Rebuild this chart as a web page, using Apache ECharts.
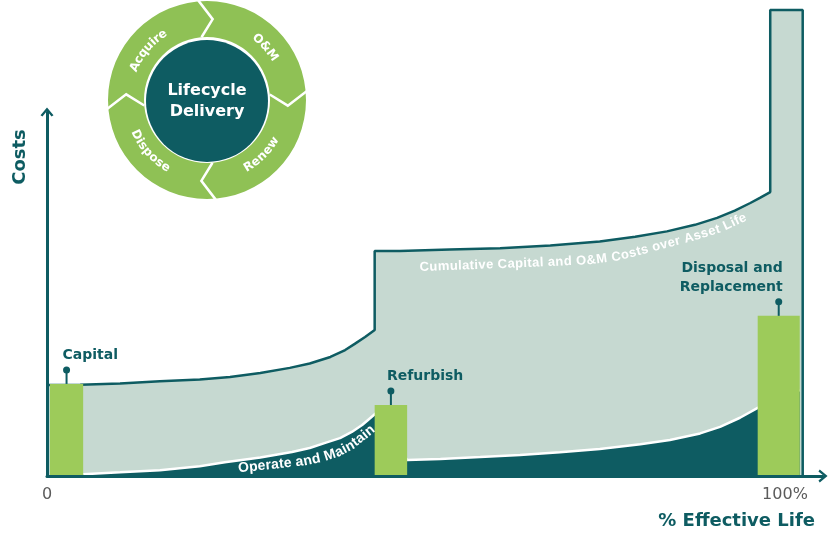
<!DOCTYPE html>
<html>
<head>
<meta charset="utf-8">
<script src="https://cdn.jsdelivr.net/npm/echarts@6/dist/echarts.min.js"></script>
<title>Lifecycle costs</title>
<style>html,body{margin:0;background:#fff}#main{width:830px;height:533px}</style>
</head>
<body>
<div id="main"></div>
<script>
var teal = '#0e5c62', pale = '#c6d9d1', green = '#9dcb5a', ringGreen = '#8fc155';

// cumulative capital + O&M cost outline (x: % effective life, y: cost)
var cumX = [0, 4.5, 9.9, 15.3, 20.7, 24.8, 28.9, 32.9, 35.6, 38.4, 40.4, 41.7, 43.1, 44.4,
            44.4, 47.8, 54.6, 61.4, 68.2, 74.9, 79.7, 84.0, 87.8, 90.8, 93.2, 95.3, 96.6, 98.0,
            98.0, 102.4, 102.4];
var cumY = [25.0, 25.1, 25.4, 26.0, 26.5, 27.2, 28.3, 29.7, 30.9, 32.7, 34.6, 36.3, 38.2, 40.1,
            61.8, 61.8, 62.2, 62.6, 63.3, 64.4, 65.7, 67.2, 69.0, 70.9, 72.9, 75.0, 76.4, 78.0,
            128.0, 128.0, 0];
// operate and maintain costs
var omX = [4.9, 9.9, 15.3, 20.7, 24.1, 28.9, 33.2, 35.6, 37.7, 39.7, 41.3, 42.7, 43.5, 44.6,
           48.8, 53.3, 58.7, 64.1, 69.5, 74.9, 80.4, 84.4, 88.5, 91.2, 93.9, 96.3, 99.3, 102.0];
var omY = [0.5, 1.0, 1.6, 2.7, 3.8, 5.1, 6.6, 7.7, 9.1, 10.4, 12.1, 14.0, 15.4, 17.3,
           4.4, 4.7, 5.2, 5.8, 6.5, 7.4, 8.7, 9.9, 11.7, 13.5, 16.0, 18.7, 21.4, 23.6];
// capital events
var barNames = ['Capital', 'Refurbish', 'Disposal and\nReplacement'];
var barStart = [0.4, 44.4, 96.3];
var barEnd = [4.9, 48.8, 102.0];
var barHeight = [25.3, 19.5, 44.0];
var barAlign = ['left', 'left', 'right'];
// captions that follow the curves
var captionText = ['Cumulative Capital and O&M Costs over Asset Life', 'Operate and Maintain'];
var captionPathX = [[50.5, 62.7, 73.6, 77.6, 81.7, 87.1, 91.2, 94.7],
                    [25.9, 29.5, 33.2, 35.2, 37.3, 39.3, 41.1, 42.7, 44.2]];
var captionPathY = [[57.3, 58.2, 59.2, 60.3, 62.5, 65.4, 67.9, 71.2],
                    [2.1, 2.8, 3.6, 4.1, 5.0, 6.3, 8.2, 10.7, 13.2]];
var captionFont = ['bold 13px "Liberation Sans"', 'bold 14px "Liberation Sans"'];
// lifecycle wheel
var cycleSteps = ['Acquire', 'O&M', 'Renew', 'Dispose'];
var cycleLabelAngle = [140, 42, 315, 222];
var cycleBoundary = [185, 95, 5, 275];
var xTicks = [0, 100];
var xTickLabels = ['0', '100%'];

var wheelCenter = [207, 100], wheelR = [63, 99];
var chevron = 'path://M0,12 L10,0 L20,12 L17,14 L10,5.5 L3,14 Z';
var measureCtx = document.createElement('canvas').getContext('2d');

// lay single glyphs along a pixel polyline
function textAlongPath(text, pts, font, fill, fit) {
  measureCtx.font = font;
  var chars = text.split('');
  var widths = chars.map(function (c) { return measureCtx.measureText(c).width; });
  var W = widths.reduce(function (a, b) { return a + b; }, 0);
  var segLen = [], L = 0;
  for (var k = 1; k < pts.length; k++) {
    var d = Math.hypot(pts[k][0] - pts[k - 1][0], pts[k][1] - pts[k - 1][1]);
    segLen.push(d); L += d;
  }
  var gap = fit ? (L - W) / (chars.length - 1) : 0;
  var s = fit ? 0 : (L - W) / 2;
  var out = [];
  chars.forEach(function (c, j) {
    var m = s + widths[j] / 2;
    var n = 0, acc = 0;
    while (n < segLen.length - 1 && acc + segLen[n] < m) { acc += segLen[n]; n++; }
    var t = segLen[n] ? (m - acc) / segLen[n] : 0;
    var a = pts[n], b = pts[n + 1];
    if (c !== ' ') {
      out.push({type: 'text', x: a[0] + (b[0] - a[0]) * t, y: a[1] + (b[1] - a[1]) * t,
        rotation: Math.atan2(-(b[1] - a[1]), b[0] - a[0]),
        style: {text: c, font: font, fill: fill, align: 'center', verticalAlign: 'middle'}});
    }
    s += widths[j] + gap;
  });
  return out;
}

function polar(r, deg) {
  var a = deg * Math.PI / 180;
  return [wheelCenter[0] + r * Math.cos(a), wheelCenter[1] - r * Math.sin(a)];
}

var myChart = echarts.init(document.getElementById('main'));

var option = {
  animation: false,
  grid: {left: 47, top: 112, width: 776, bottom: 57},
  xAxis: {
    type: 'value', min: 0, max: 105.15, z: 10,
    axisLine: {lineStyle: {color: teal, width: 3}, symbol: ['none', chevron], symbolSize: [13, 10]},
    axisTick: {show: false},
    splitLine: {show: false},
    axisLabel: {
      customValues: xTicks, margin: 11, color: '#5b5b5b', fontSize: 16, fontFamily: 'DejaVu Sans',
      formatter: function (v) { return xTickLabels[xTicks.indexOf(v)]; }
    }
  },
  yAxis: {
    type: 'value', min: 0, max: 100, z: 10,
    axisLine: {show: true, lineStyle: {color: teal, width: 3}, symbol: ['none', chevron], symbolSize: [13, 10]},
    axisTick: {show: false},
    axisLabel: {show: false},
    splitLine: {show: false}
  },
  graphic: [
    {type: 'text', x: 20, y: 157, rotation: Math.PI / 2,
      style: {text: 'Costs', fill: teal, font: 'bold 18px "DejaVu Sans"', align: 'center', verticalAlign: 'middle'}},
    {type: 'text', x: 815, y: 521,
      style: {text: '% Effective Life', fill: teal, font: 'bold 18px "DejaVu Sans"', align: 'right', verticalAlign: 'middle'}}
  ],
  series: [
    {
      type: 'line', z: 1, clip: false, showSymbol: false, silent: true,
      data: cumX.map(function (x, i) { return [x, cumY[i]]; }),
      lineStyle: {color: teal, width: 2.5},
      areaStyle: {color: pale, opacity: 1}
    },
    {
      type: 'line', z: 2, showSymbol: false, silent: true,
      data: omX.map(function (x, i) { return [x, omY[i]]; }),
      lineStyle: {color: '#fff', width: 2.5},
      areaStyle: {color: teal, opacity: 1}
    },
    {
      type: 'custom', z: 3, silent: true,
      data: barNames.map(function (n, i) { return [barStart[i], barEnd[i], barHeight[i]]; }),
      encode: {x: [0, 1], y: 2},
      renderItem: function (params, api) {
        var i = params.dataIndex;
        var p0 = api.coord([api.value(0), api.value(2)]);
        var p1 = api.coord([api.value(1), 0]);
        var cx = (p0[0] + p1[0]) / 2, top = p0[1];
        var al = barAlign[i];
        return {type: 'group', children: [
          {type: 'rect', shape: {x: p0[0], y: top, width: p1[0] - p0[0], height: p1[1] - top}, style: {fill: green}},
          {type: 'line', shape: {x1: cx, y1: top, x2: cx, y2: top - 14}, style: {stroke: teal, lineWidth: 2}},
          {type: 'circle', shape: {cx: cx, cy: top - 14, r: 3.5}, style: {fill: teal}},
          {type: 'text', x: cx + (al === 'left' ? -4 : 4), y: top - 19,
            style: {text: barNames[i], fill: teal, font: 'bold 14px "DejaVu Sans"', align: al, verticalAlign: 'bottom', lineHeight: 19}}
        ]};
      }
    },
    {
      type: 'custom', z: 4, silent: true,
      data: captionText.map(function (t, i) { return [captionPathX[i][0], captionPathY[i][0]]; }),
      encode: {x: 0, y: 1},
      renderItem: function (params, api) {
        var i = params.dataIndex;
        var pts = captionPathX[i].map(function (x, k) { return api.coord([x, captionPathY[i][k]]); });
        return {type: 'group', children: textAlongPath(captionText[i], pts, captionFont[i], '#fff', true)};
      }
    },
    {
      type: 'pie', z: 6, silent: true, center: wheelCenter, radius: wheelR, startAngle: 90,
      data: cycleSteps.map(function (n) { return {name: n, value: 1}; }),
      itemStyle: {color: ringGreen, borderWidth: 0},
      label: {show: false}, labelLine: {show: false}
    },
    {
      type: 'custom', z: 7, silent: true, coordinateSystem: 'none',
      data: cycleSteps.map(function (n, i) { return [i]; }),
      renderItem: function (params, api) {
        var i = params.dataIndex;
        var b = cycleBoundary[i];
        var font = 'bold 12px "DejaVu Sans"';
        measureCtx.font = font;
        var r = 79, half = measureCtx.measureText(cycleSteps[i]).width / 2 / r * 180 / Math.PI * 1.04;
        var a = cycleLabelAngle[i], lower = a > 180;
        var pts = [];
        for (var k = 0; k <= 16; k++) {
          var f = k / 16;
          pts.push(polar(r, lower ? a - half + 2 * half * f : a + half - 2 * half * f));
        }
        var sep = [polar(wheelR[0], b), polar((wheelR[0] + wheelR[1]) / 2, b - 9), polar(wheelR[1] + 1, b)];
        return {type: 'group', children: [
          {type: 'polyline', shape: {points: sep}, style: {stroke: '#fff', lineWidth: 2.5, fill: null}}
        ].concat(textAlongPath(cycleSteps[i], pts, font, '#fff', false))};
      }
    },
    {
      type: 'pie', z: 6, silent: true, center: [207, 101], radius: [0, 61],
      data: [{name: 'Lifecycle\nDelivery', value: 1}],
      itemStyle: {color: teal},
      label: {position: 'center', formatter: '{b}', color: '#fff', fontSize: 16, fontWeight: 'bold', fontFamily: 'DejaVu Sans', lineHeight: 21},
      labelLine: {show: false}
    }
  ]
};
myChart.setOption(option);
</script>
</body>
</html>
